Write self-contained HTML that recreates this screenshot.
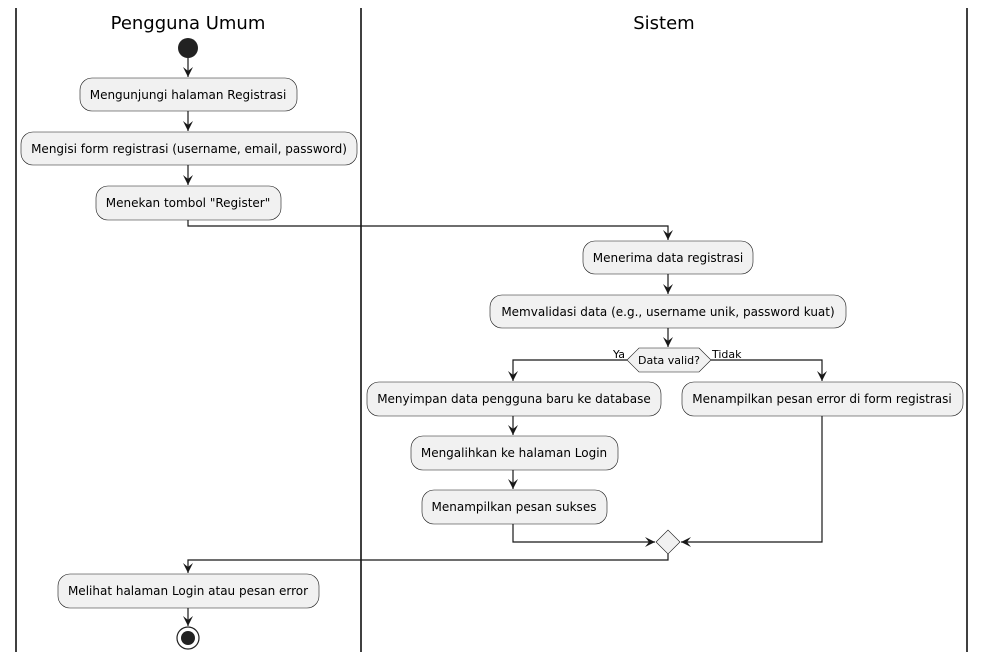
<!DOCTYPE html>
<html><head><meta charset="utf-8"><style>
html,body{margin:0;padding:0;background:#fff;}
svg{display:block;}
text{font-family:"DejaVu Sans","Liberation Sans",sans-serif;fill:#000;}
.b{fill:#f1f1f1;stroke:#181818;stroke-width:0.6;}
.l{stroke:#181818;stroke-width:1.2;fill:none;}
.t{font-size:12px;text-anchor:middle;}
</style></head><body>
<svg width="985" height="661" viewBox="0 0 985 661">
<defs><marker id="a" markerWidth="12" markerHeight="12" refX="10" refY="5" orient="auto" markerUnits="userSpaceOnUse"><path d="M0,0 L10,5 L0,10 L4,5 Z" fill="#181818"/></marker></defs>
<line x1="16" y1="8" x2="16" y2="652" stroke="#000" stroke-width="1.5"/>
<line x1="361" y1="8" x2="361" y2="652" stroke="#000" stroke-width="1.5"/>
<line x1="967" y1="8" x2="967" y2="652" stroke="#000" stroke-width="1.5"/>
<text x="188" y="29" style="font-size:18px;text-anchor:middle">Pengguna Umum</text>
<text x="664" y="29" style="font-size:18px;text-anchor:middle">Sistem</text>
<circle cx="188" cy="48" r="10" fill="#222"/>
<path class="l" d="M188 58 V77" marker-end="url(#a)"/>
<rect class="b" x="80" y="78" width="217" height="33" rx="12"/>
<text class="t" x="188" y="99">Mengunjungi halaman Registrasi</text>
<path class="l" d="M188 111 V131" marker-end="url(#a)"/>
<rect class="b" x="21" y="132" width="336" height="33" rx="12"/>
<text class="t" x="189" y="153">Mengisi form registrasi (username, email, password)</text>
<path class="l" d="M188 165 V185" marker-end="url(#a)"/>
<rect class="b" x="96" y="186" width="185" height="34" rx="12"/>
<text class="t" x="188" y="207">Menekan tombol "Register"</text>
<path class="l" d="M188 220 V226 H668 V240" marker-end="url(#a)"/>
<rect class="b" x="583" y="241" width="170" height="33" rx="12"/>
<text class="t" x="668" y="262">Menerima data registrasi</text>
<path class="l" d="M668 274 V294" marker-end="url(#a)"/>
<rect class="b" x="490" y="295" width="356" height="33" rx="12"/>
<text class="t" x="668" y="316">Memvalidasi data (e.g., username unik, password kuat)</text>
<path class="l" d="M668 328 V347" marker-end="url(#a)"/>
<polygon class="b" points="627,360 639,348 699,348 711,360 699,372 639,372"/>
<text x="669" y="364" style="font-size:11px;text-anchor:middle">Data valid?</text>
<text x="625" y="358" style="font-size:11px;text-anchor:end">Ya</text>
<text x="712" y="358" style="font-size:11px">Tidak</text>
<path class="l" d="M627 360 H513 V381" marker-end="url(#a)"/>
<path class="l" d="M711 360 H822 V381" marker-end="url(#a)"/>
<rect class="b" x="367" y="382" width="294" height="34" rx="12"/>
<text class="t" x="514" y="403">Menyimpan data pengguna baru ke database</text>
<rect class="b" x="682" y="382" width="281" height="34" rx="12"/>
<text class="t" x="822" y="403">Menampilkan pesan error di form registrasi</text>
<path class="l" d="M513 416 V435" marker-end="url(#a)"/>
<rect class="b" x="411" y="436" width="207" height="34" rx="12"/>
<text class="t" x="514" y="457">Mengalihkan ke halaman Login</text>
<path class="l" d="M513 470 V489" marker-end="url(#a)"/>
<rect class="b" x="422" y="490" width="185" height="34" rx="12"/>
<text class="t" x="514" y="511">Menampilkan pesan sukses</text>
<polygon class="b" points="656,542 668,530 680,542 668,554"/>
<path class="l" d="M513 524 V542 H655" marker-end="url(#a)"/>
<path class="l" d="M822 416 V542 H681" marker-end="url(#a)"/>
<path class="l" d="M668 554 V560 H188 V573" marker-end="url(#a)"/>
<rect class="b" x="58" y="574" width="261" height="34" rx="12"/>
<text class="t" x="188" y="595">Melihat halaman Login atau pesan error</text>
<path class="l" d="M188 608 V626" marker-end="url(#a)"/>
<circle cx="188" cy="638" r="11" fill="none" stroke="#222" stroke-width="1.2"/>
<circle cx="188" cy="638" r="7" fill="#222"/>
</svg>
</body></html>
